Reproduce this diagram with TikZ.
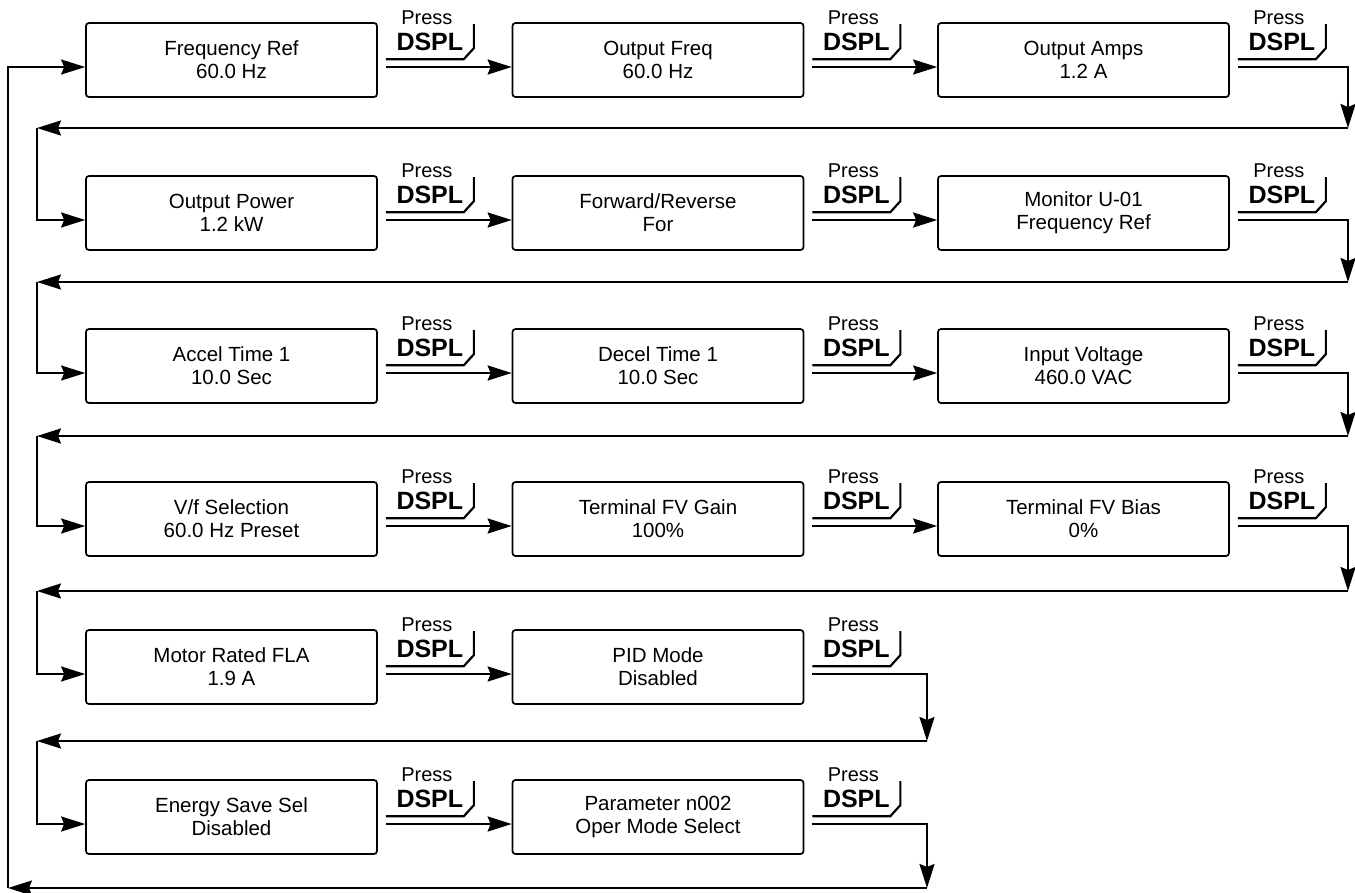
\documentclass[tikz,border=0pt]{standalone}
\usepackage{fontspec}
\setmainfont{Liberation Sans}
\usetikzlibrary{arrows.meta,calc}

\tikzset{
  screen/.style={draw, line width=1.7pt, rounded corners=3pt, minimum width=291pt,
    minimum height=74pt, inner sep=0pt, align=center,
    font=\fontsize{20.5}{23}\selectfont},
  flow/.style={line width=2.2pt, -{Stealth[length=24pt,width=15pt,inset=3pt]}},
  keyline/.style={line width=2.2pt},
  presstext/.style={inner sep=0pt, anchor=base, font=\fontsize{20}{20}\selectfont},
  dspltext/.style={inner sep=0pt, anchor=base, font=\fontsize{25}{25}\selectfont\bfseries},
}

\begin{document}
\begin{tikzpicture}[x=1pt,y=-1pt]
\useasboundingbox (0,0) rectangle (1355,892);

% display screens
\node[screen] (a1) at (231.5,60) {Frequency Ref\\60.0 Hz};
\node[screen] (a2) at (658,60) {Output Freq\\60.0 Hz};
\node[screen] (a3) at (1083.5,60) {Output Amps\\1.2 A};

\node[screen] (b1) at (231.5,213) {Output Power\\1.2 kW};
\node[screen] (b2) at (658,213) {Forward/Reverse\\For};
\node[screen] (b3) at (1083.5,213) {Monitor U-01\\Frequency Ref};

\node[screen] (c1) at (231.5,366) {Accel Time 1\\10.0 Sec};
\node[screen] (c2) at (658,366) {Decel Time 1\\10.0 Sec};
\node[screen] (c3) at (1083.5,366) {Input Voltage\\460.0 VAC};

\node[screen] (d1) at (231.5,519) {V/f Selection\\60.0 Hz Preset};
\node[screen] (d2) at (658,519) {Terminal FV Gain\\100\%};
\node[screen] (d3) at (1083.5,519) {Terminal FV Bias\\0\%};

\node[screen] (e1) at (231.5,667) {Motor Rated FLA\\1.9 A};
\node[screen] (e2) at (658,667) {PID Mode\\Disabled};

\node[screen] (f1) at (231.5,817) {Energy Save Sel\\Disabled};
\node[screen] (f2) at (658,817) {Parameter n002\\Oper Mode Select};

% DSPL key after every screen
\foreach \b in {a1,a2,a3,b1,b2,b3,c1,c2,c3,d1,d2,d3,e1,e2,f1,f2} {
  \node[presstext] (p\b) at ($(\b.north east)+(49,2)$) {Press};
  \node[dspltext] (k\b) at ($(\b.north east)+(52,28)$) {DSPL};
  \draw[keyline] ($(\b.north east)+(8,37)$) -- ++(78,0) -- ++(10,-11) -- ++(0,-24);
}

% turning points
\coordinate (r1) at (1348,128);
\coordinate (r2) at (1348,282);
\coordinate (r3) at (1348,436);
\coordinate (r4) at (1348,591);
\coordinate (r5) at (927,741);
\coordinate (r6) at (927,888);
\coordinate (l1) at (37,128);
\coordinate (l2) at (37,282);
\coordinate (l3) at (37,436);
\coordinate (l4) at (37,591);
\coordinate (l5) at (37,741);
\coordinate (l6) at (8,888);

% row 1
\draw[flow] ($(a1.east)+(8,7)$) -- ($(a2.west)+(0,7)$);
\draw[flow] ($(a2.east)+(8,7)$) -- ($(a3.west)+(0,7)$);
\draw[flow] ($(a3.east)+(8,7)$) -| (r1);
\draw[flow] (r1) -- (l1);
\draw[flow] (l1) |- ($(b1.west)+(0,7)$);

% row 2
\draw[flow] ($(b1.east)+(8,7)$) -- ($(b2.west)+(0,7)$);
\draw[flow] ($(b2.east)+(8,7)$) -- ($(b3.west)+(0,7)$);
\draw[flow] ($(b3.east)+(8,7)$) -| (r2);
\draw[flow] (r2) -- (l2);
\draw[flow] (l2) |- ($(c1.west)+(0,7)$);

% row 3
\draw[flow] ($(c1.east)+(8,7)$) -- ($(c2.west)+(0,7)$);
\draw[flow] ($(c2.east)+(8,7)$) -- ($(c3.west)+(0,7)$);
\draw[flow] ($(c3.east)+(8,7)$) -| (r3);
\draw[flow] (r3) -- (l3);
\draw[flow] (l3) |- ($(d1.west)+(0,7)$);

% row 4
\draw[flow] ($(d1.east)+(8,7)$) -- ($(d2.west)+(0,7)$);
\draw[flow] ($(d2.east)+(8,7)$) -- ($(d3.west)+(0,7)$);
\draw[flow] ($(d3.east)+(8,7)$) -| (r4);
\draw[flow] (r4) -- (l4);
\draw[flow] (l4) |- ($(e1.west)+(0,7)$);

% row 5
\draw[flow] ($(e1.east)+(8,7)$) -- ($(e2.west)+(0,7)$);
\draw[flow] ($(e2.east)+(8,7)$) -| (r5);
\draw[flow] (r5) -- (l5);
\draw[flow] (l5) |- ($(f1.west)+(0,7)$);

% row 6 and back to the top
\draw[flow] ($(f1.east)+(8,7)$) -- ($(f2.west)+(0,7)$);
\draw[flow] ($(f2.east)+(8,7)$) -| (r6);
\draw[flow] (r6) -- (l6);
\draw[flow] (l6) |- ($(a1.west)+(0,7)$);
\end{tikzpicture}
\end{document}
